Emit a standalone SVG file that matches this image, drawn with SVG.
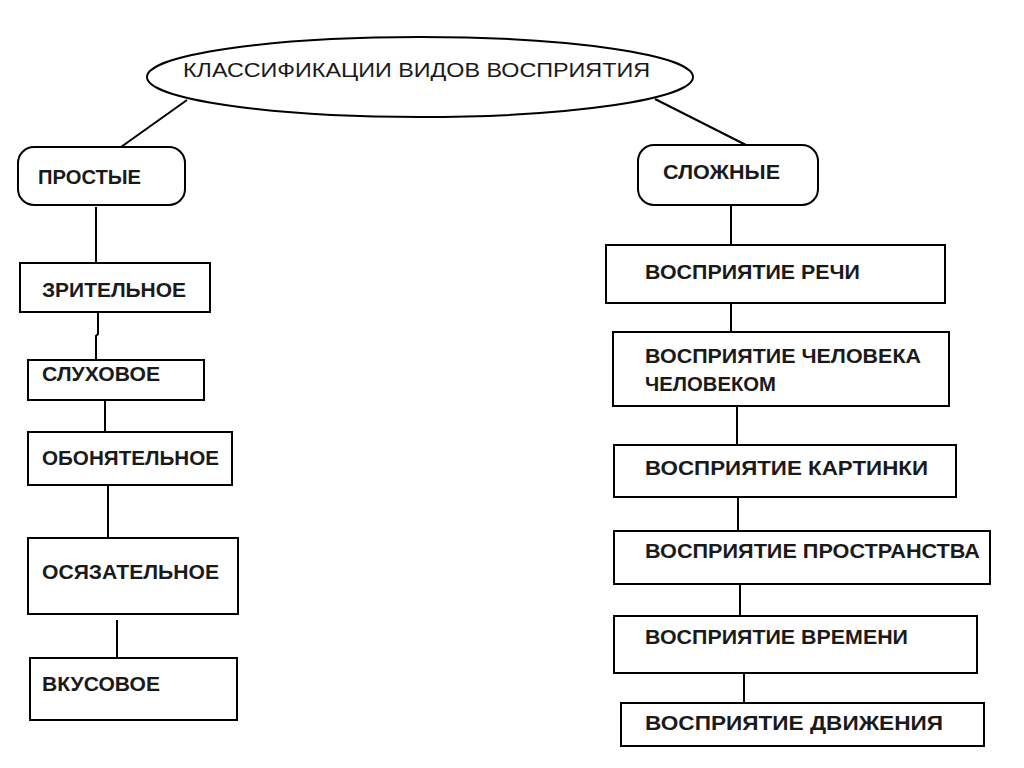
<svg xmlns="http://www.w3.org/2000/svg" width="1024" height="768" viewBox="0 0 1024 768">
<style>
.b{fill:#fff;stroke:#000;stroke-width:2}
.c{stroke:#000;stroke-width:2;fill:none}
.t{font-family:"Liberation Sans",Arial,sans-serif;font-size:20px;font-weight:bold;fill:#1a1a1a}
.h{font-family:"Liberation Sans",Arial,sans-serif;font-size:21px;fill:#1a1a1a}
</style>
<rect width="1024" height="768" fill="#fff"/>
<g id="connectors">
<line class="c" x1="187" y1="100" x2="121" y2="147"/>
<line class="c" x1="655" y1="99" x2="746" y2="145"/>
<line class="c" x1="96" y1="207" x2="96" y2="263"/>
<polyline class="c" points="98,312 98,334 96,336 96,360"/>
<line class="c" x1="105" y1="400" x2="105" y2="432"/>
<line class="c" x1="108" y1="485" x2="108" y2="538"/>
<line class="c" x1="117" y1="620" x2="117" y2="658"/>
<line class="c" x1="731" y1="205" x2="731" y2="245"/>
<line class="c" x1="731" y1="303" x2="731" y2="332"/>
<line class="c" x1="737" y1="406" x2="737" y2="445"/>
<line class="c" x1="738" y1="497" x2="738" y2="531"/>
<line class="c" x1="740" y1="584" x2="740" y2="616"/>
<line class="c" x1="744" y1="673" x2="744" y2="703"/>
</g>
<g id="root">
<ellipse class="b" cx="420" cy="77" rx="273" ry="40"/>
<text class="h" x="183" y="77" textLength="467" lengthAdjust="spacingAndGlyphs">КЛАССИФИКАЦИИ ВИДОВ ВОСПРИЯТИЯ</text>
</g>
<g id="simple">
<rect class="b" x="18" y="147" width="167" height="58" rx="16"/>
<text class="t" x="38" y="184" textLength="103" lengthAdjust="spacingAndGlyphs">ПРОСТЫЕ</text>
</g>
<g id="complex">
<rect class="b" x="638" y="145" width="180" height="60" rx="16"/>
<text class="t" x="663" y="179" textLength="117" lengthAdjust="spacingAndGlyphs">СЛОЖНЫЕ</text>
</g>
<g id="visual">
<rect class="b" x="20" y="263" width="190" height="49"/>
<text class="t" x="42" y="297" textLength="144" lengthAdjust="spacingAndGlyphs">ЗРИТЕЛЬНОЕ</text>
</g>
<g id="auditory">
<rect class="b" x="28" y="360" width="176" height="40"/>
<text class="t" x="42" y="381" textLength="118" lengthAdjust="spacingAndGlyphs">СЛУХОВОЕ</text>
</g>
<g id="olfactory">
<rect class="b" x="28" y="432" width="204" height="53"/>
<text class="t" x="42" y="465" textLength="177" lengthAdjust="spacingAndGlyphs">ОБОНЯТЕЛЬНОЕ</text>
</g>
<g id="tactile">
<rect class="b" x="28" y="538" width="210" height="76"/>
<text class="t" x="42" y="579" textLength="177" lengthAdjust="spacingAndGlyphs">ОСЯЗАТЕЛЬНОЕ</text>
</g>
<g id="taste">
<rect class="b" x="30" y="658" width="207" height="62"/>
<text class="t" x="42" y="691" textLength="118" lengthAdjust="spacingAndGlyphs">ВКУСОВОЕ</text>
</g>
<g id="speech">
<rect class="b" x="606" y="245" width="339" height="58"/>
<text class="t" x="645" y="279" textLength="215" lengthAdjust="spacingAndGlyphs">ВОСПРИЯТИЕ РЕЧИ</text>
</g>
<g id="person">
<rect class="b" x="613" y="332" width="336" height="74"/>
<text class="t" x="645" y="363" textLength="276" lengthAdjust="spacingAndGlyphs">ВОСПРИЯТИЕ ЧЕЛОВЕКА</text>
<text class="t" x="645" y="391" textLength="131" lengthAdjust="spacingAndGlyphs">ЧЕЛОВЕКОМ</text>
</g>
<g id="picture">
<rect class="b" x="614" y="445" width="342" height="52"/>
<text class="t" x="645" y="475" textLength="283" lengthAdjust="spacingAndGlyphs">ВОСПРИЯТИЕ КАРТИНКИ</text>
</g>
<g id="space">
<rect class="b" x="614" y="531" width="376" height="53"/>
<text class="t" x="645" y="558" textLength="335" lengthAdjust="spacingAndGlyphs">ВОСПРИЯТИЕ ПРОСТРАНСТВА</text>
</g>
<g id="time">
<rect class="b" x="614" y="616" width="363" height="57"/>
<text class="t" x="645" y="644" textLength="263" lengthAdjust="spacingAndGlyphs">ВОСПРИЯТИЕ ВРЕМЕНИ</text>
</g>
<g id="motion">
<rect class="b" x="621" y="703" width="363" height="43"/>
<text class="t" x="645" y="730" textLength="298" lengthAdjust="spacingAndGlyphs">ВОСПРИЯТИЕ ДВИЖЕНИЯ</text>
</g>
</svg>
